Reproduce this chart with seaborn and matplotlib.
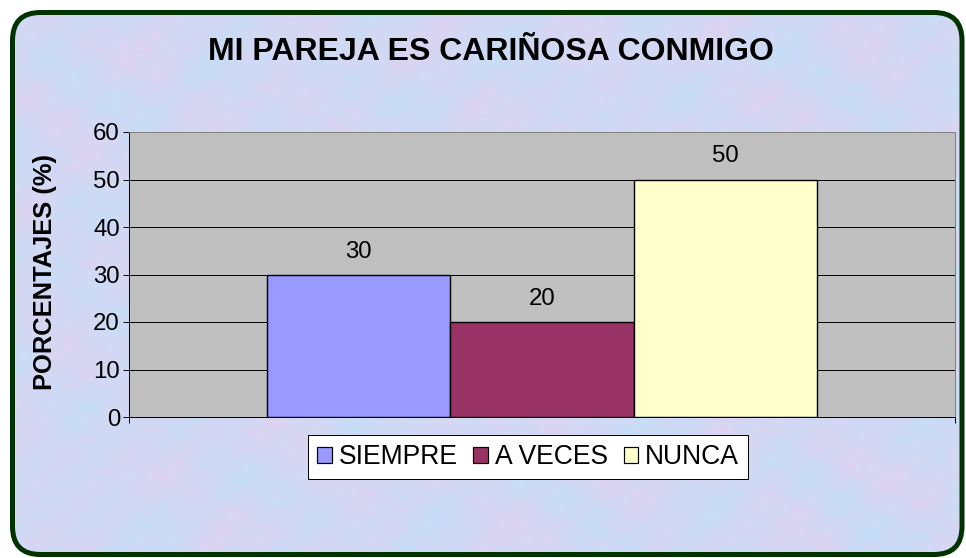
import numpy as np
import pandas as pd
import matplotlib
matplotlib.use("Agg")
import matplotlib.pyplot as plt
import seaborn as sns
from matplotlib.patches import FancyBboxPatch, Patch

# chart data
respuestas = ["SIEMPRE", "A VECES", "NUNCA"]
porcentajes = [30, 20, 50]
colores = ["#9999FF", "#993366", "#FFFFCC"]
y_ticks = [0, 10, 20, 30, 40, 50, 60]
titulo = "MI PAREJA ES CARIÑOSA CONMIGO"
eje_y = "PORCENTAJES (%)"

df = pd.DataFrame({"grupo": [""] * len(respuestas),
                   "respuesta": respuestas,
                   "porcentaje": porcentajes})

sns.set_style("white")
plt.rcParams["font.family"] = ["Liberation Sans", "DejaVu Sans"]
plt.rcParams["text.color"] = "black"
plt.rcParams["axes.labelcolor"] = "black"
plt.rcParams["xtick.color"] = "black"
plt.rcParams["ytick.color"] = "black"

W, H = 966, 558
fig = plt.figure(figsize=(W / 72, H / 72), dpi=72, facecolor="white")

# background: pastel mottled texture inside a rounded dark green frame
bg = fig.add_axes([0, 0, 1, 1], zorder=-5)
bg.set_xlim(0, W)
bg.set_ylim(H, 0)
bg.axis("off")
yy, xx = np.mgrid[0:H, 0:W]
t = (np.sin(xx / 23.0 + 2 * np.sin(yy / 31.0))
     + np.sin(yy / 17.0 + 2 * np.cos(xx / 41.0))
     + 0.6 * np.sin((xx + yy) / 9.0)
     + 0.4 * np.cos((xx - 2 * yy) / 7.0)) / 3.0
w = np.clip((t + 1) / 2, 0, 1)[..., None] * 0.8
azul = np.array([0.78, 0.87, 0.97])
rosa = np.array([0.89, 0.82, 0.94])
tex = azul * (1 - w) + rosa * w
frame = FancyBboxPatch((12.5, 12.5), W - 12.5 - 4, H - 12.5 - 3.5,
                       boxstyle="round,pad=0,rounding_size=28",
                       facecolor="none", edgecolor="#003300", linewidth=5,
                       zorder=3)
bg.add_patch(frame)
img = bg.imshow(tex, extent=(0, W, H, 0), zorder=1, aspect="auto")
img.set_clip_path(frame)

# plot area
ax = fig.add_axes([129 / W, 1 - 417 / H, (955 - 129) / W, (417 - 132) / H])
ax.set_facecolor("#C0C0C0")
sns.barplot(data=df, x="grupo", y="porcentaje", hue="respuesta",
            palette=colores, hue_order=respuestas, width=0.667,
            edgecolor="black", linewidth=1.4, saturation=1,
            legend=False, ax=ax)
ax.set_xlim(-0.5, 0.5)
ax.set_ylim(0, 60)
ax.set_yticks(y_ticks)
ax.set_xticks([-0.5, 0.5])
ax.set_xticklabels([])
ax.tick_params(axis="y", labelsize=24, length=6, width=1, direction="out",
               colors="black", pad=3, left=True)
ax.tick_params(axis="x", length=6, width=1, direction="out", bottom=True)
ax.set_axisbelow(True)
ax.yaxis.grid(True, color="black", linewidth=1)
ax.set_xlabel("")
ax.set_ylabel("")
for s in ["left", "bottom"]:
    ax.spines[s].set_color("black")
    ax.spines[s].set_linewidth(1)
for s in ["top", "right"]:
    ax.spines[s].set_color("#808080")
    ax.spines[s].set_linewidth(1)
    ax.spines[s].set_visible(True)

for cont in ax.containers:
    ax.bar_label(cont, fmt="%d", padding=12, fontsize=24, color="black")

fig.text(491 / W, 1 - 52 / H, titulo, ha="center", va="center",
         fontsize=32, fontweight="bold", color="black")
fig.text(45 / W, 1 - 272 / H, eje_y, ha="center", va="center",
         rotation=90, fontsize=25.5, fontweight="bold", color="black")

handles = [Patch(facecolor=c, edgecolor="black", linewidth=1.2) for c in colores]
leg = fig.legend(handles, respuestas, loc="center", ncol=3,
                 bbox_to_anchor=(528 / W, 1 - 457 / H), fontsize=26.5,
                 frameon=True, fancybox=False, framealpha=1,
                 edgecolor="black", handlelength=0.55, handleheight=0.55,
                 handletextpad=0.25, columnspacing=0.6, borderpad=0.35)
leg.get_frame().set_linewidth(1)
for txt in leg.get_texts():
    txt.set_color("black")

fig.savefig("out.png", dpi=72, facecolor="white")
